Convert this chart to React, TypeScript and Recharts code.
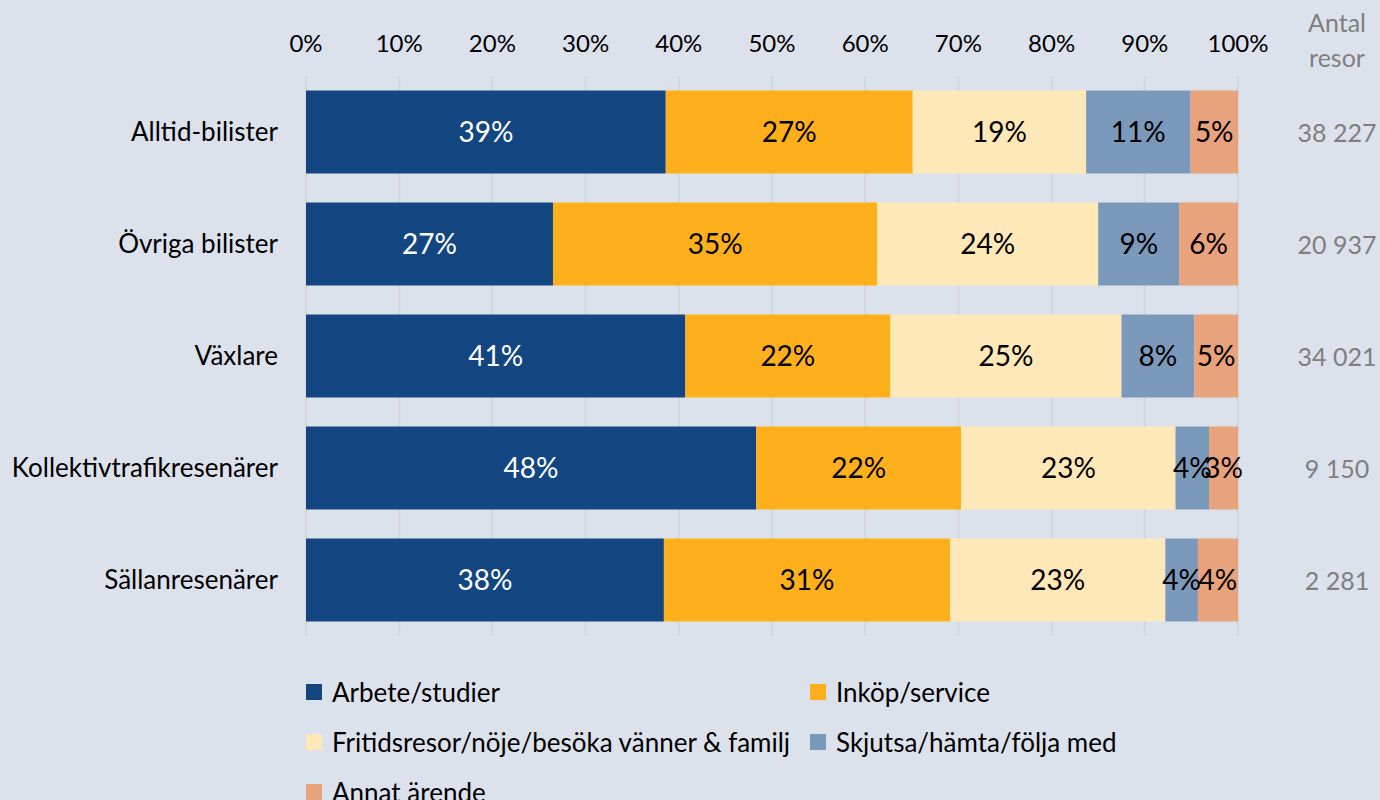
import React from 'react';
import { BarChart, Bar, XAxis, YAxis, CartesianGrid, LabelList } from 'recharts';

const categories = ['Alltid-bilister', 'Övriga bilister', 'Växlare', 'Kollektivtrafikresenärer', 'Sällanresenärer'];
const arbete = [38.6, 26.5, 40.7, 48.3, 38.4];
const inkop = [26.5, 34.8, 22.0, 22.0, 30.7];
const fritid = [18.6, 23.7, 24.8, 23.0, 23.1];
const skjutsa = [11.2, 8.7, 7.8, 3.6, 3.5];
const annat = [5.1, 6.3, 4.7, 3.1, 4.3];
const antal = ['38 227', '20 937', '34 021', '9 150', '2 281'];
const xTicks = [0, 10, 20, 30, 40, 50, 60, 70, 80, 90, 100];

const series = [
  { key: 'arbete', name: 'Arbete/studier', color: '#134680', label: '#ffffff' },
  { key: 'inkop', name: 'Inköp/service', color: '#fdb01b', label: '#000000' },
  { key: 'fritid', name: 'Fritidsresor/nöje/besöka vänner & familj', color: '#ffe8b8', label: '#000000' },
  { key: 'skjutsa', name: 'Skjutsa/hämta/följa med', color: '#7a99bb', label: '#000000' },
  { key: 'annat', name: 'Annat ärende', color: '#e8a27c', label: '#000000' },
];

const data = categories.map((name, i) => ({
  name,
  arbete: arbete[i],
  inkop: inkop[i],
  fritid: fritid[i],
  skjutsa: skjutsa[i],
  annat: annat[i],
  antal: antal[i],
}));

const FONT = 'Lato, "Open Sans", sans-serif';
const BG = '#dce2ec';

const RightTick = (props: any) => {
  const { x, y, index } = props;
  return (
    <text x={x} y={y} textAnchor="middle" dominantBaseline="central" fill="#7f7f7f" fontSize={25} fontFamily={FONT}>
      {antal[index]}
    </text>
  );
};

export default function App() {
  return (
    <div style={{ position: 'absolute', left: 0, top: 0, width: 1380, height: 800, background: BG, fontFamily: FONT, overflow: 'hidden' }}>
      <BarChart
        width={1380}
        height={800}
        data={data}
        layout="vertical"
        margin={{ top: 0, right: 0, bottom: 164, left: 0 }}
        barCategoryGap="13%"
      >
        <CartesianGrid horizontal={false} vertical={true} stroke="#d4d6da" strokeWidth={2} />
        <XAxis
          type="number"
          orientation="top"
          domain={[0, 100]}
          ticks={xTicks}
          tickFormatter={(v: number) => `${v}%`}
          axisLine={false}
          tickLine={false}
          tickSize={0}
          tickMargin={24}
          height={76}
          tick={{ fill: '#000000', fontSize: 24, fontFamily: FONT }}
          interval={0}
        />
        <YAxis
          yAxisId="left"
          type="category"
          dataKey="name"
          orientation="left"
          width={306}
          axisLine={false}
          tickLine={false}
          tickSize={0}
          tickMargin={28}
          tick={{ fill: '#000000', fontSize: 26, fontFamily: FONT }}
          interval={0}
        />
        <YAxis
          yAxisId="right"
          type="category"
          dataKey="name"
          orientation="right"
          width={142}
          axisLine={false}
          tickLine={false}
          tickSize={0}
          tickMargin={99}
          tick={<RightTick />}
          interval={0}
        />
        {series.map((s) => (
          <Bar key={s.key} dataKey={s.key} stackId="a" fill={s.color} yAxisId="left" isAnimationActive={false}>
            <LabelList
              dataKey={s.key}
              position="center"
              formatter={(v: any) => `${Math.round(Number(v))}%`}
              fill={s.label}
              fontSize={28}
              fontFamily={FONT}
            />
          </Bar>
        ))}
      </BarChart>
      <div style={{ position: 'absolute', left: 1297, top: 5, width: 80, textAlign: 'center', color: '#7f7f7f', fontSize: 25, lineHeight: '35px', fontFamily: FONT }}>
        Antal<br />resor
      </div>
      <div style={{ position: 'absolute', left: 306, top: 674, width: 1000, display: 'grid', gridTemplateColumns: '504px 480px', rowGap: 14, fontFamily: FONT, fontSize: 26, color: '#000' }}>
        {series.map((s) => (
          <div key={s.key} style={{ display: 'flex', alignItems: 'center', height: 36, whiteSpace: 'nowrap' }}>
            <span style={{ display: 'inline-block', width: 16, height: 16, background: s.color, marginRight: 10 }} />
            <span>{s.name}</span>
          </div>
        ))}
      </div>
    </div>
  );
}
